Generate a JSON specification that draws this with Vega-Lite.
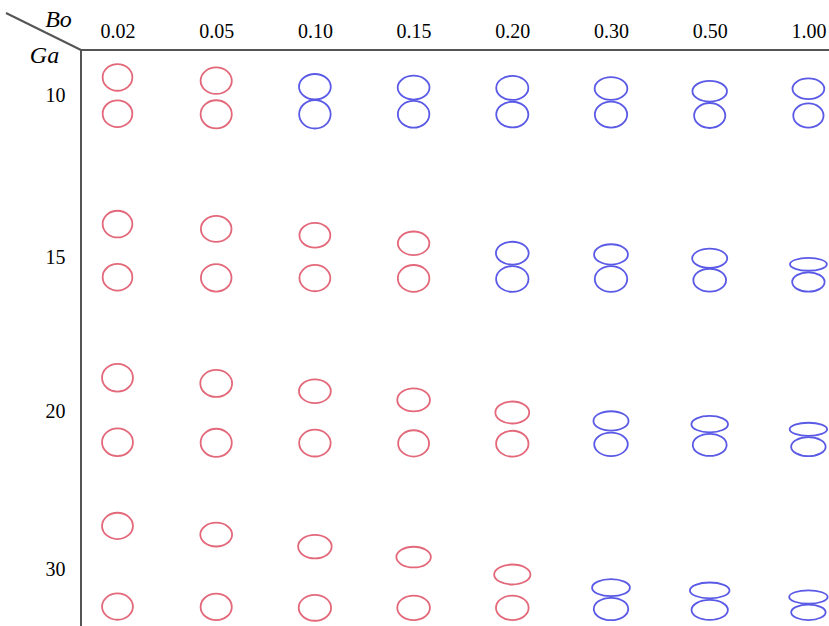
{
  "$schema": "https://vega.github.io/schema/vega-lite/v6.json",
  "width": 750,
  "height": 578,
  "autosize": {"type": "none"},
  "padding": {"left": 81, "top": 50, "right": 0, "bottom": 0},
  "background": "white",
  "config": {
    "view": {"stroke": "#555555", "strokeWidth": 2, "fill": "white"},
    "axis": {"grid": false, "labelColor": "#000000", "titleColor": "#000000"}
  },
  "datasets": {
    "bubbles": [
      {"Ga": 10, "Bo": "0.02", "bubble": "upper", "regime": "no coalescence", "z": 1.70, "w": 0.99, "aspect": "0.90"},
      {"Ga": 10, "Bo": "0.02", "bubble": "lower", "regime": "no coalescence", "z": 0.49, "w": 0.99, "aspect": "0.90"},
      {"Ga": 10, "Bo": "0.05", "bubble": "upper", "regime": "no coalescence", "z": 1.59, "w": 1.04, "aspect": "0.85"},
      {"Ga": 10, "Bo": "0.05", "bubble": "lower", "regime": "no coalescence", "z": 0.47, "w": 1.04, "aspect": "0.90"},
      {"Ga": 10, "Bo": "0.10", "bubble": "upper", "regime": "coalescence", "z": 1.39, "w": 1.06, "aspect": "0.80"},
      {"Ga": 10, "Bo": "0.10", "bubble": "lower", "regime": "coalescence", "z": 0.47, "w": 1.05, "aspect": "0.90"},
      {"Ga": 10, "Bo": "0.15", "bubble": "upper", "regime": "coalescence", "z": 1.36, "w": 1.06, "aspect": "0.75"},
      {"Ga": 10, "Bo": "0.15", "bubble": "lower", "regime": "coalescence", "z": 0.47, "w": 1.05, "aspect": "0.85"},
      {"Ga": 10, "Bo": "0.20", "bubble": "upper", "regime": "coalescence", "z": 1.35, "w": 1.07, "aspect": "0.75"},
      {"Ga": 10, "Bo": "0.20", "bubble": "lower", "regime": "coalescence", "z": 0.46, "w": 1.07, "aspect": "0.80"},
      {"Ga": 10, "Bo": "0.30", "bubble": "upper", "regime": "coalescence", "z": 1.33, "w": 1.09, "aspect": "0.70"},
      {"Ga": 10, "Bo": "0.30", "bubble": "lower", "regime": "coalescence", "z": 0.46, "w": 1.08, "aspect": "0.80"},
      {"Ga": 10, "Bo": "0.50", "bubble": "upper", "regime": "coalescence", "z": 1.24, "w": 1.15, "aspect": "0.60"},
      {"Ga": 10, "Bo": "0.50", "bubble": "lower", "regime": "coalescence", "z": 0.43, "w": 1.04, "aspect": "0.80"},
      {"Ga": 10, "Bo": "1.00", "bubble": "upper", "regime": "coalescence", "z": 1.32, "w": 1.06, "aspect": "0.65"},
      {"Ga": 10, "Bo": "1.00", "bubble": "lower", "regime": "coalescence", "z": 0.43, "w": 1.01, "aspect": "0.80"},

      {"Ga": 15, "Bo": "0.02", "bubble": "upper", "regime": "no coalescence", "z": 2.28, "w": 0.99, "aspect": "0.90"},
      {"Ga": 15, "Bo": "0.02", "bubble": "lower", "regime": "no coalescence", "z": 0.51, "w": 0.99, "aspect": "0.90"},
      {"Ga": 15, "Bo": "0.05", "bubble": "upper", "regime": "no coalescence", "z": 2.12, "w": 1.02, "aspect": "0.85"},
      {"Ga": 15, "Bo": "0.05", "bubble": "lower", "regime": "no coalescence", "z": 0.49, "w": 1.02, "aspect": "0.90"},
      {"Ga": 15, "Bo": "0.10", "bubble": "upper", "regime": "no coalescence", "z": 1.91, "w": 1.03, "aspect": "0.80"},
      {"Ga": 15, "Bo": "0.10", "bubble": "lower", "regime": "no coalescence", "z": 0.48, "w": 1.03, "aspect": "0.85"},
      {"Ga": 15, "Bo": "0.15", "bubble": "upper", "regime": "no coalescence", "z": 1.64, "w": 1.05, "aspect": "0.75"},
      {"Ga": 15, "Bo": "0.15", "bubble": "lower", "regime": "no coalescence", "z": 0.47, "w": 1.05, "aspect": "0.85"},
      {"Ga": 15, "Bo": "0.20", "bubble": "upper", "regime": "coalescence", "z": 1.31, "w": 1.09, "aspect": "0.70"},
      {"Ga": 15, "Bo": "0.20", "bubble": "lower", "regime": "coalescence", "z": 0.45, "w": 1.08, "aspect": "0.80"},
      {"Ga": 15, "Bo": "0.30", "bubble": "upper", "regime": "coalescence", "z": 1.27, "w": 1.13, "aspect": "0.60"},
      {"Ga": 15, "Bo": "0.30", "bubble": "lower", "regime": "coalescence", "z": 0.45, "w": 1.08, "aspect": "0.80"},
      {"Ga": 15, "Bo": "0.50", "bubble": "upper", "regime": "coalescence", "z": 1.14, "w": 1.17, "aspect": "0.55"},
      {"Ga": 15, "Bo": "0.50", "bubble": "lower", "regime": "coalescence", "z": 0.41, "w": 1.09, "aspect": "0.70"},
      {"Ga": 15, "Bo": "1.00", "bubble": "upper", "regime": "coalescence", "z": 0.94, "w": 1.23, "aspect": "0.35"},
      {"Ga": 15, "Bo": "1.00", "bubble": "lower", "regime": "coalescence", "z": 0.35, "w": 1.08, "aspect": "0.60"},

      {"Ga": 20, "Bo": "0.02", "bubble": "upper", "regime": "no coalescence", "z": 2.63, "w": 1.03, "aspect": "0.90"},
      {"Ga": 20, "Bo": "0.02", "bubble": "lower", "regime": "no coalescence", "z": 0.48, "w": 1.03, "aspect": "0.90"},
      {"Ga": 20, "Bo": "0.05", "bubble": "upper", "regime": "no coalescence", "z": 2.44, "w": 1.06, "aspect": "0.85"},
      {"Ga": 20, "Bo": "0.05", "bubble": "lower", "regime": "no coalescence", "z": 0.46, "w": 1.04, "aspect": "0.90"},
      {"Ga": 20, "Bo": "0.10", "bubble": "upper", "regime": "no coalescence", "z": 2.18, "w": 1.06, "aspect": "0.75"},
      {"Ga": 20, "Bo": "0.10", "bubble": "lower", "regime": "no coalescence", "z": 0.45, "w": 1.05, "aspect": "0.85"},
      {"Ga": 20, "Bo": "0.15", "bubble": "upper", "regime": "no coalescence", "z": 1.89, "w": 1.09, "aspect": "0.70"},
      {"Ga": 20, "Bo": "0.15", "bubble": "lower", "regime": "no coalescence", "z": 0.44, "w": 1.03, "aspect": "0.85"},
      {"Ga": 20, "Bo": "0.20", "bubble": "upper", "regime": "no coalescence", "z": 1.47, "w": 1.13, "aspect": "0.65"},
      {"Ga": 20, "Bo": "0.20", "bubble": "lower", "regime": "no coalescence", "z": 0.43, "w": 1.08, "aspect": "0.80"},
      {"Ga": 20, "Bo": "0.30", "bubble": "upper", "regime": "coalescence", "z": 1.19, "w": 1.17, "aspect": "0.55"},
      {"Ga": 20, "Bo": "0.30", "bubble": "lower", "regime": "coalescence", "z": 0.41, "w": 1.12, "aspect": "0.70"},
      {"Ga": 20, "Bo": "0.50", "bubble": "upper", "regime": "coalescence", "z": 1.08, "w": 1.22, "aspect": "0.45"},
      {"Ga": 20, "Bo": "0.50", "bubble": "lower", "regime": "coalescence", "z": 0.39, "w": 1.13, "aspect": "0.65"},
      {"Ga": 20, "Bo": "1.00", "bubble": "upper", "regime": "coalescence", "z": 0.91, "w": 1.25, "aspect": "0.35"},
      {"Ga": 20, "Bo": "1.00", "bubble": "lower", "regime": "coalescence", "z": 0.33, "w": 1.15, "aspect": "0.55"},

      {"Ga": 30, "Bo": "0.02", "bubble": "upper", "regime": "no coalescence", "z": 3.16, "w": 1.03, "aspect": "0.85"},
      {"Ga": 30, "Bo": "0.02", "bubble": "lower", "regime": "no coalescence", "z": 0.47, "w": 1.03, "aspect": "0.85"},
      {"Ga": 30, "Bo": "0.05", "bubble": "upper", "regime": "no coalescence", "z": 2.87, "w": 1.06, "aspect": "0.75"},
      {"Ga": 30, "Bo": "0.05", "bubble": "lower", "regime": "no coalescence", "z": 0.46, "w": 1.04, "aspect": "0.85"},
      {"Ga": 30, "Bo": "0.10", "bubble": "upper", "regime": "no coalescence", "z": 2.47, "w": 1.12, "aspect": "0.70"},
      {"Ga": 30, "Bo": "0.10", "bubble": "lower", "regime": "no coalescence", "z": 0.43, "w": 1.08, "aspect": "0.80"},
      {"Ga": 30, "Bo": "0.15", "bubble": "upper", "regime": "no coalescence", "z": 2.12, "w": 1.15, "aspect": "0.60"},
      {"Ga": 30, "Bo": "0.15", "bubble": "lower", "regime": "no coalescence", "z": 0.43, "w": 1.09, "aspect": "0.75"},
      {"Ga": 30, "Bo": "0.20", "bubble": "upper", "regime": "no coalescence", "z": 1.54, "w": 1.21, "aspect": "0.55"},
      {"Ga": 30, "Bo": "0.20", "bubble": "lower", "regime": "no coalescence", "z": 0.43, "w": 1.09, "aspect": "0.75"},
      {"Ga": 30, "Bo": "0.30", "bubble": "upper", "regime": "coalescence", "z": 1.10, "w": 1.26, "aspect": "0.45"},
      {"Ga": 30, "Bo": "0.30", "bubble": "lower", "regime": "coalescence", "z": 0.39, "w": 1.15, "aspect": "0.65"},
      {"Ga": 30, "Bo": "0.50", "bubble": "upper", "regime": "coalescence", "z": 1.01, "w": 1.32, "aspect": "0.40"},
      {"Ga": 30, "Bo": "0.50", "bubble": "lower", "regime": "coalescence", "z": 0.36, "w": 1.21, "aspect": "0.55"},
      {"Ga": 30, "Bo": "1.00", "bubble": "upper", "regime": "coalescence", "z": 0.79, "w": 1.28, "aspect": "0.35"},
      {"Ga": 30, "Bo": "1.00", "bubble": "lower", "regime": "coalescence", "z": 0.28, "w": 1.15, "aspect": "0.45"}
    ]
  },
  "layer": [
    {
      "data": {"values": [{"part": "header diagonal"}]},
      "mark": {"type": "rule", "clip": false, "stroke": "#555555", "strokeWidth": 2},
      "encoding": {
        "x": {"value": -75},
        "y": {"value": -37},
        "x2": {"value": 0},
        "y2": {"value": 0}
      }
    },
    {
      "data": {"name": "bubbles"},
      "mark": {"type": "point", "filled": false, "strokeWidth": 1.8, "opacity": 1},
      "encoding": {
        "x": {
          "field": "Bo",
          "type": "ordinal",
          "scale": {"domain": ["0.02", "0.05", "0.10", "0.15", "0.20", "0.30", "0.50", "1.00"], "range": [-12.85, 776.75], "paddingInner": 0, "paddingOuter": 0},
          "axis": {
            "orient": "top",
            "title": "Bo",
            "domain": false,
            "ticks": false,
            "tickSize": 0,
            "labelPadding": 13,
            "labelAngle": 0,
            "labelBaseline": "alphabetic",
            "labelFont": "Liberation Serif",
            "labelFontSize": 20,
            "titleFont": "Liberation Serif",
            "titleFontSize": 24,
            "titleFontStyle": "italic",
            "titleFontWeight": "normal",
            "titleAngle": 0,
            "titleAlign": "center",
            "titleBaseline": "alphabetic",
            "titleX": -23,
            "titleY": -24
          }
        },
        "y": {
          "field": "Ga",
          "type": "ordinal",
          "scale": {"domain": [10, 15, 20, 30], "range": [-43.65, 612.75], "paddingInner": 0, "paddingOuter": 0},
          "axis": {
            "title": "Ga",
            "domain": false,
            "ticks": false,
            "tickSize": 0,
            "labelPadding": 16,
            "labelFont": "Liberation Serif",
            "labelFontSize": 20,
            "labelBaseline": "middle",
            "labelOffset": {
              "condition": [
                {"test": "datum.value == 10", "value": 8},
                {"test": "datum.value == 15", "value": 5},
                {"test": "datum.value == 20", "value": -5}
              ],
              "value": -11
            },
            "titleFont": "Liberation Serif",
            "titleFontSize": 24,
            "titleFontStyle": "italic",
            "titleFontWeight": "normal",
            "titleAngle": 0,
            "titleAlign": "center",
            "titleBaseline": "alphabetic",
            "titleX": -37,
            "titleY": 12
          }
        },
        "yOffset": {"field": "z", "type": "quantitative", "scale": {"domain": [0, 4], "range": [122.05, 2.05], "nice": false, "zero": false}},
        "size": {"field": "w", "type": "quantitative", "scale": {"type": "pow", "exponent": 2, "domain": [0, 2], "range": [0, 3600]}, "legend": null},
        "shape": {
          "field": "aspect",
          "type": "nominal",
          "scale": {
            "domain": ["0.35", "0.40", "0.45", "0.50", "0.55", "0.60", "0.65", "0.70", "0.75", "0.80", "0.85", "0.90"],
            "range": [
              "M-1 0C-1 -0.1933 -0.5523 -0.35 0 -0.35C0.5523 -0.35 1 -0.1933 1 0C1 0.1933 0.5523 0.35 0 0.35C-0.5523 0.35 -1 0.1933 -1 0Z",
              "M-1 0C-1 -0.2209 -0.5523 -0.4 0 -0.4C0.5523 -0.4 1 -0.2209 1 0C1 0.2209 0.5523 0.4 0 0.4C-0.5523 0.4 -1 0.2209 -1 0Z",
              "M-1 0C-1 -0.2485 -0.5523 -0.45 0 -0.45C0.5523 -0.45 1 -0.2485 1 0C1 0.2485 0.5523 0.45 0 0.45C-0.5523 0.45 -1 0.2485 -1 0Z",
              "M-1 0C-1 -0.2762 -0.5523 -0.5 0 -0.5C0.5523 -0.5 1 -0.2762 1 0C1 0.2762 0.5523 0.5 0 0.5C-0.5523 0.5 -1 0.2762 -1 0Z",
              "M-1 0C-1 -0.3038 -0.5523 -0.55 0 -0.55C0.5523 -0.55 1 -0.3038 1 0C1 0.3038 0.5523 0.55 0 0.55C-0.5523 0.55 -1 0.3038 -1 0Z",
              "M-1 0C-1 -0.3314 -0.5523 -0.6 0 -0.6C0.5523 -0.6 1 -0.3314 1 0C1 0.3314 0.5523 0.6 0 0.6C-0.5523 0.6 -1 0.3314 -1 0Z",
              "M-1 0C-1 -0.359 -0.5523 -0.65 0 -0.65C0.5523 -0.65 1 -0.359 1 0C1 0.359 0.5523 0.65 0 0.65C-0.5523 0.65 -1 0.359 -1 0Z",
              "M-1 0C-1 -0.3866 -0.5523 -0.7 0 -0.7C0.5523 -0.7 1 -0.3866 1 0C1 0.3866 0.5523 0.7 0 0.7C-0.5523 0.7 -1 0.3866 -1 0Z",
              "M-1 0C-1 -0.4142 -0.5523 -0.75 0 -0.75C0.5523 -0.75 1 -0.4142 1 0C1 0.4142 0.5523 0.75 0 0.75C-0.5523 0.75 -1 0.4142 -1 0Z",
              "M-1 0C-1 -0.4418 -0.5523 -0.8 0 -0.8C0.5523 -0.8 1 -0.4418 1 0C1 0.4418 0.5523 0.8 0 0.8C-0.5523 0.8 -1 0.4418 -1 0Z",
              "M-1 0C-1 -0.4695 -0.5523 -0.85 0 -0.85C0.5523 -0.85 1 -0.4695 1 0C1 0.4695 0.5523 0.85 0 0.85C-0.5523 0.85 -1 0.4695 -1 0Z",
              "M-1 0C-1 -0.4971 -0.5523 -0.9 0 -0.9C0.5523 -0.9 1 -0.4971 1 0C1 0.4971 0.5523 0.9 0 0.9C-0.5523 0.9 -1 0.4971 -1 0Z"
            ]
          },
          "legend": null
        },
        "color": {
          "field": "regime",
          "type": "nominal",
          "scale": {"domain": ["no coalescence", "coalescence"], "range": ["#e3687a", "#5a5ae6"]},
          "legend": null
        }
      }
    }
  ]
}
